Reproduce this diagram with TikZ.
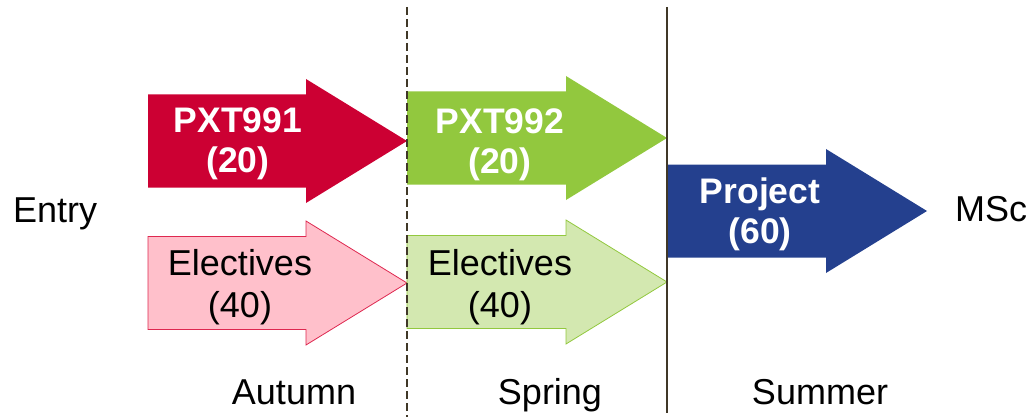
\documentclass[tikz,border=0pt]{standalone}
\usepackage{fontspec}
\setmainfont{Liberation Sans}
\definecolor{cred}{RGB}{204,0,51}
\definecolor{cpink}{RGB}{255,192,203}
\definecolor{cpinkline}{RGB}{222,40,80}
\definecolor{cgreen}{RGB}{146,200,62}
\definecolor{clgreen}{RGB}{211,232,176}
\definecolor{cblue}{RGB}{36,64,142}
\definecolor{cline}{RGB}{64,56,40}
\tikzset{
  lbl/.style={inner sep=0pt, font=\fontsize{36}{42}\selectfont},
  boldlbl/.style={inner sep=0pt, align=center, text=white, font=\fontsize{35.5}{40}\selectfont\bfseries},
  elelbl/.style={inner sep=0pt, align=center, text=black, font=\fontsize{36}{42}\selectfont},
  divider/.style={line width=2.3pt, draw=cline},
}
\begin{document}
\begin{tikzpicture}[x=1pt,y=-1pt]
\useasboundingbox (0,0) rectangle (1028,417);
% arrows
\fill[cred] (148,94.5) -- (306,94.5) -- (306,79) -- (407,141) -- (306,203) -- (306,187.5) -- (148,187.5) -- cycle;
\filldraw[fill=cpink, draw=cpinkline, line width=0.8pt] (148,236.5) -- (306,236.5) -- (306,221) -- (407,283) -- (306,345) -- (306,329.5) -- (148,329.5) -- cycle;
\fill[cgreen] (407,91.5) -- (566,91.5) -- (566,76) -- (667,138) -- (566,200) -- (566,184.5) -- (407,184.5) -- cycle;
\filldraw[fill=clgreen, draw=cgreen, line width=0.8pt] (407,235.5) -- (566,235.5) -- (566,220) -- (667,282) -- (566,344) -- (566,328.5) -- (407,328.5) -- cycle;
\fill[cblue] (667,164.5) -- (826,164.5) -- (826,149) -- (927,211) -- (826,273) -- (826,257.5) -- (667,257.5) -- cycle;
% arrow labels
\node[boldlbl] (pxt1) at (238,143.5) {PXT991\\(20)};
\node[elelbl] (ele1) at (240,287) {Electives\\(40)};
\node[boldlbl] (pxt2) at (500,144.5) {PXT992\\(20)};
\node[elelbl] (ele2) at (500,287) {Electives\\(40)};
\node[boldlbl] (proj) at (760,214) {Project\\(60)};
% dividers
\coordinate (d1t) at (407,7);
\coordinate (d1b) at (407,417);
\coordinate (d2t) at (667,7);
\coordinate (d2b) at (667,413);
\draw[divider, dash pattern=on 8pt off 4pt] (d1t) -- (d1b);
\draw[divider] (d2t) -- (d2b);
% side labels
\node[lbl, anchor=base west] (entry) at (13,222.7) {Entry};
\node[lbl, anchor=base west] (msc) at (955,221) {MSc};
\node[lbl, anchor=base] (aut) at (294,404) {Autumn};
\node[lbl, anchor=base] (spr) at (550,404) {Spring};
\node[lbl, anchor=base] (sum) at (820,404) {Summer};
\end{tikzpicture}
\end{document}
